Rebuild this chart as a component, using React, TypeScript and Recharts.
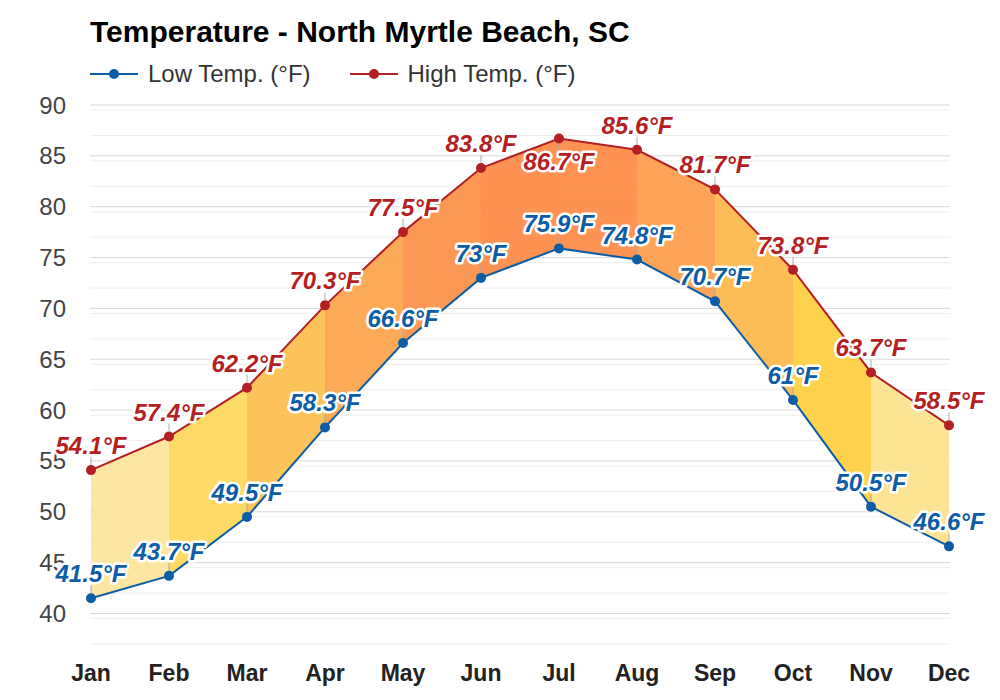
import {
  Area,
  CartesianGrid,
  ComposedChart,
  LabelList,
  Line,
  XAxis,
  YAxis,
} from "recharts";

const months = ["Jan", "Feb", "Mar", "Apr", "May", "Jun", "Jul", "Aug", "Sep", "Oct", "Nov", "Dec"];
const lowTemps = [41.5, 43.7, 49.5, 58.3, 66.6, 73, 75.9, 74.8, 70.7, 61, 50.5, 46.6];
const highTemps = [54.1, 57.4, 62.2, 70.3, 77.5, 83.8, 86.7, 85.6, 81.7, 73.8, 63.7, 58.5];
// one colour per month-to-month band segment (Jan→Feb ... Nov→Dec)
const bandColors = [
  "#fde59c", "#fed85c", "#fdc050", "#fca54c", "#fc924a", "#fd8b48",
  "#fd8c48", "#fd9e4b", "#fdb84b", "#fecf40", "#fde28e",
];
const yTicks = [40, 45, 50, 55, 60, 65, 70, 75, 80, 85, 90];
const labelBelow = ["Jul"]; // high labels drawn under the dot

const LOW = "#0d5ca6";
const HIGH = "#b41f24";
const FONT = '"Liberation Sans", Arial, sans-serif';

const data = months.map((m, i) => ({
  month: m,
  low: lowTemps[i],
  high: highTemps[i],
  band: [lowTemps[i], highTemps[i]],
}));

// light half-degree rules behind the major 5° grid
const minorLines: number[] = [];
for (let v = 37; v < 90; v += 0.5) if (v % 5 !== 0) minorLines.push(v);

function ValueLabel(props: any, color: string, series: "low" | "high") {
  const { x, y, value, index } = props;
  const below = series === "high" && labelBelow.includes(months[index]);
  const ty = below ? y + 31 : y - 16;
  return (
    <g key={`${series}-${index}`}>
      <line
        x1={x}
        x2={x}
        y1={below ? y + 5 : y - 5}
        y2={below ? y + 12 : y - 13}
        stroke="#aaa"
        strokeWidth={1}
      />
      <text
        x={x}
        y={ty}
        textAnchor="middle"
        fontFamily={FONT}
        fontSize={24}
        fontWeight="bold"
        fontStyle="italic"
        fill={color}
        stroke="#fff"
        strokeWidth={5}
        strokeLinejoin="round"
        paintOrder="stroke"
      >
        {`${value}°F`}
      </text>
    </g>
  );
}

function LegendBlock() {
  const items = [
    { label: "Low Temp. (°F)", color: LOW },
    { label: "High Temp. (°F)", color: HIGH },
  ];
  return (
    <div
      style={{
        position: "absolute",
        left: 90,
        top: 62,
        display: "flex",
        alignItems: "center",
        fontFamily: FONT,
      }}
    >
      {items.map((it) => (
        <div key={it.label} style={{ display: "flex", alignItems: "center", marginRight: 39 }}>
          <svg width={48} height={12} style={{ marginRight: 10 }}>
            <line x1={0} x2={48} y1={6} y2={6} stroke={it.color} strokeWidth={2} />
            <circle cx={24} cy={6} r={5} fill={it.color} />
          </svg>
          <span style={{ fontSize: 24, color: "#333", lineHeight: 1 }}>{it.label}</span>
        </div>
      ))}
    </div>
  );
}

export default function App() {
  return (
    <div
      style={{
        position: "absolute",
        left: 0,
        top: 0,
        width: 1000,
        height: 700,
        background: "#fff",
        fontFamily: FONT,
      }}
    >
      <div
        style={{
          position: "absolute",
          left: 90,
          top: 17,
          fontSize: 30,
          lineHeight: "30px",
          fontWeight: "bold",
          color: "#000",
          whiteSpace: "nowrap",
        }}
      >
        Temperature - North Myrtle Beach, SC
      </div>
      <LegendBlock />
      <ComposedChart
        width={1000}
        height={700}
        data={data}
        margin={{ top: 105, right: 50, bottom: 0, left: 0 }}
        style={{ position: "absolute", left: 0, top: 0 }}
      >
        <defs>
          <linearGradient id="bandFill" x1="0" y1="0" x2="1" y2="0">
            {bandColors.flatMap((c, i) => [
              <stop key={`a${i}`} offset={i / bandColors.length} stopColor={c} />,
              <stop key={`b${i}`} offset={(i + 1) / bandColors.length} stopColor={c} />,
            ])}
          </linearGradient>
        </defs>
        <CartesianGrid vertical={false} horizontalValues={minorLines} stroke="#eeeeee" />
        <CartesianGrid vertical={false} horizontalValues={yTicks} stroke="#d9d9d9" />
        <XAxis
          dataKey="month"
          height={56}
          padding={{ left: 1, right: 1 }}
          axisLine={false}
          tickLine={false}
          tickSize={0}
          tickMargin={21}
          interval={0}
          tick={{ fontSize: 23, fontWeight: "bold", fill: "#222", fontFamily: FONT }}
        />
        <YAxis
          width={90}
          domain={[37, 90]}
          ticks={yTicks}
          axisLine={false}
          tickLine={false}
          tickSize={0}
          tickMargin={24}
          tick={{ fontSize: 24, fill: "#444", fontFamily: FONT }}
        />
        <Area
          dataKey="band"
          stroke="none"
          fill="url(#bandFill)"
          fillOpacity={0.94}
          isAnimationActive={false}
          legendType="none"
        />
        <Line
          dataKey="low"
          name="Low Temp. (°F)"
          stroke={LOW}
          strokeWidth={2}
          dot={{ r: 5, fill: LOW, stroke: LOW, strokeWidth: 0 }}
          activeDot={false}
          isAnimationActive={false}
        >
          <LabelList dataKey="low" content={(p: any) => ValueLabel(p, LOW, "low")} />
        </Line>
        <Line
          dataKey="high"
          name="High Temp. (°F)"
          stroke={HIGH}
          strokeWidth={2}
          dot={{ r: 5, fill: HIGH, stroke: HIGH, strokeWidth: 0 }}
          activeDot={false}
          isAnimationActive={false}
        >
          <LabelList dataKey="high" content={(p: any) => ValueLabel(p, HIGH, "high")} />
        </Line>
      </ComposedChart>
    </div>
  );
}
